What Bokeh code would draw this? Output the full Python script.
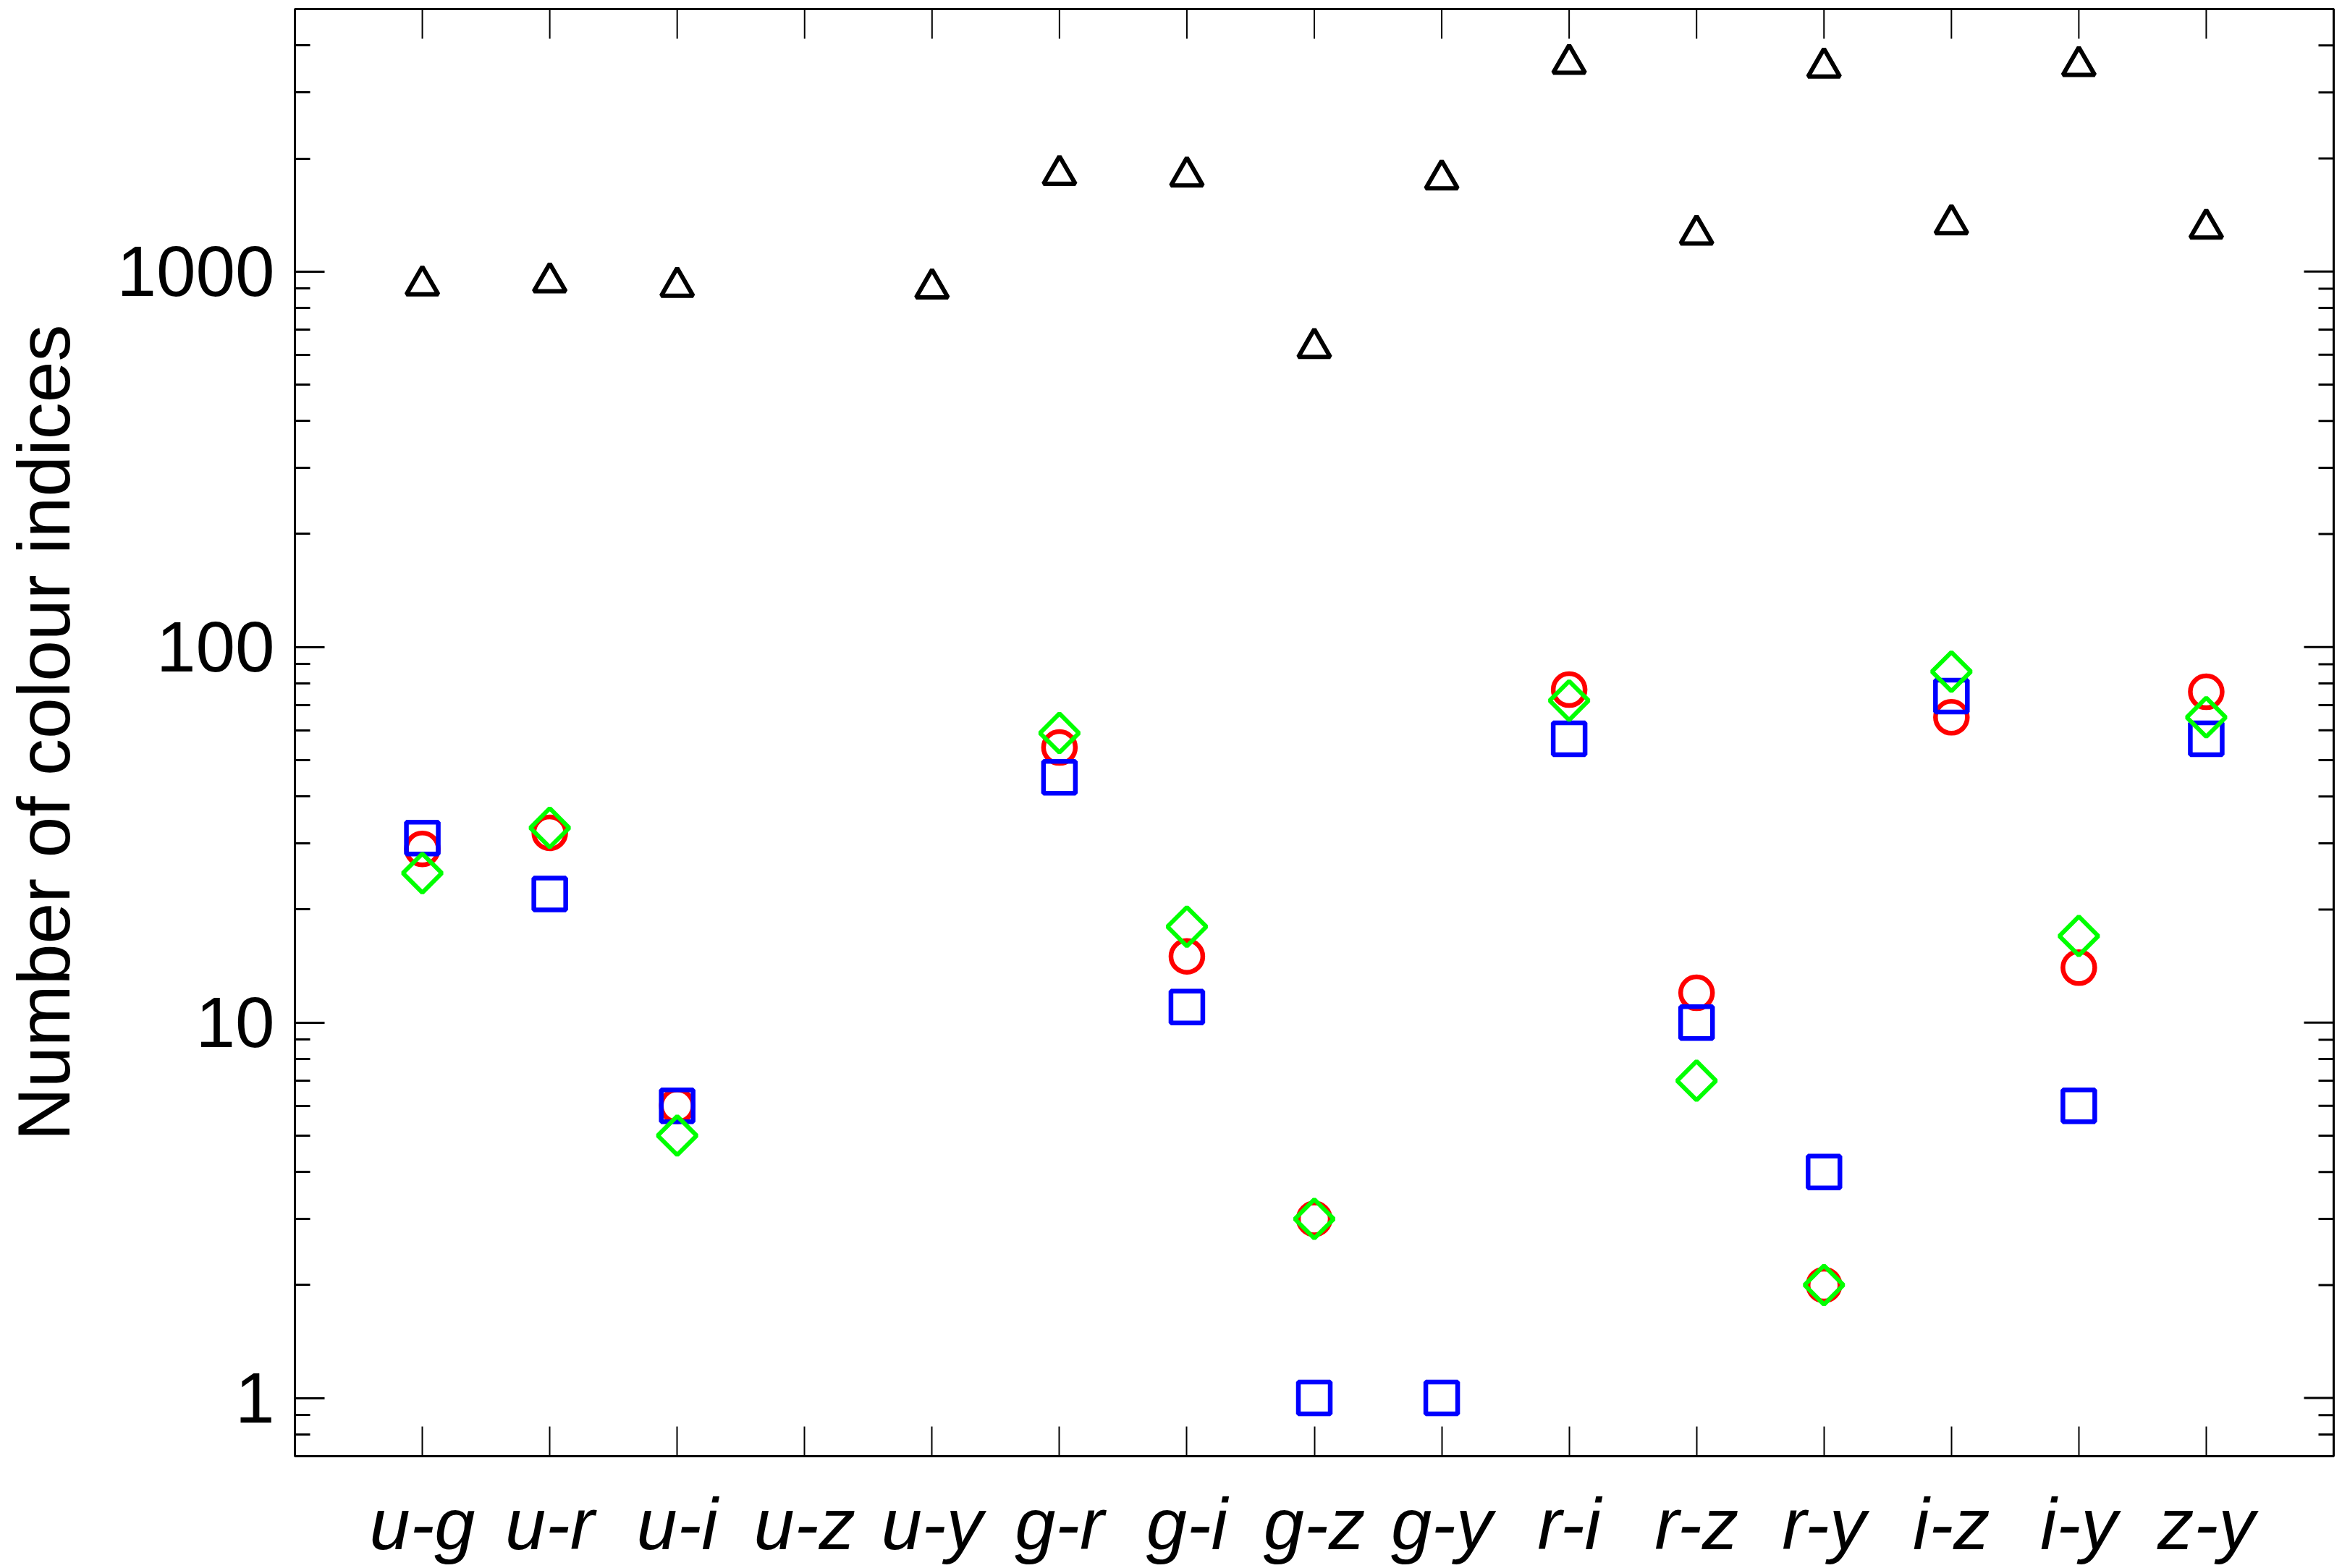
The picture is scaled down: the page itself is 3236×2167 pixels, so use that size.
import math
from bokeh.plotting import figure
from bokeh.models import Range1d, FixedTicker
from bokeh.embed import file_html
from bokeh.resources import INLINE

# ---- data ----
categories = ["u-g", "u-r", "u-i", "u-z", "u-y", "g-r", "g-i", "g-z", "g-y",
              "r-i", "r-z", "r-y", "i-z", "i-y", "z-y"]
NaN = float("nan")
triangles = [920, 937, 912, NaN, 903, 1811, 1794, 627, 1762, 3580, 1256, 3499, 1339, 3532, 1303]
circles   = [29, 32, 6, NaN, NaN, 54, 15, 3, NaN, 77, 12, 2, 65, 14, 76]
squares   = [31, 22, 6, NaN, NaN, 45, 11, 1, 1, 57, 10, 4, 74, 6, 57]
diamonds  = [25, 33, 5, NaN, NaN, 59, 18, 3, NaN, 72, 7, 2, 86, 17, 65]
y_ticks = [1, 10, 100, 1000]
y_tick_labels = ["1", "10", "100", "1000"]

x_pos = list(range(1, len(categories) + 1))
x_min, x_max = 0, len(categories) + 1
y_min, y_max = 0.7, 5000
y_minor = sorted(set([m * 10 ** e for e in range(-1, 4) for m in range(2, 10)
                      if y_min <= m * 10 ** e <= y_max] + [0.7, 0.8, 0.9]))


def pts(vals):
    xs = [x for x, v in zip(x_pos, vals) if not math.isnan(v)]
    ys = [v for v in vals if not math.isnan(v)]
    return xs, ys


FONT = "Liberation Sans"
MAJ, MIN = 41, 21

p = figure(width=3228, height=2165,
           x_range=Range1d(x_min, x_max), y_range=Range1d(y_min, y_max),
           y_axis_type="log", output_backend="svg", toolbar_location=None,
           min_border_left=407, min_border_right=4, min_border_top=12, min_border_bottom=153)
p.xgrid.visible = False
p.ygrid.visible = False
p.outline_line_color = "black"
p.outline_line_width = 3
p.background_fill_color = "white"
p.border_fill_color = "white"

xticker = FixedTicker(ticks=x_pos, minor_ticks=[])
yticker = FixedTicker(ticks=y_ticks, minor_ticks=y_minor)

# bottom axis
xa = p.xaxis[0]
xa.ticker = xticker
xa.major_label_overrides = {x: c for x, c in zip(x_pos, categories)}
xa.major_label_text_font = FONT
xa.major_label_text_font_style = "italic"
xa.major_label_text_font_size = "101px"
xa.major_label_standoff = 37
xa.major_tick_in = MAJ
xa.major_tick_out = 0
xa.minor_tick_in = 0
xa.minor_tick_out = 0
xa.major_tick_line_width = 2

# left axis
ya = p.yaxis[0]
ya.ticker = yticker
ya.major_label_overrides = {t: l for t, l in zip(y_ticks, y_tick_labels)}
ya.major_label_text_font = FONT
ya.major_label_text_font_size = "98px"
ya.major_label_standoff = 28
ya.axis_label = "Number of colour indices"
ya.axis_label_text_font = FONT
ya.axis_label_text_font_style = "normal"
ya.axis_label_text_font_size = "102px"
ya.axis_label_standoff = 40
ya.major_tick_in = MAJ
ya.major_tick_out = 0
ya.minor_tick_in = MIN
ya.minor_tick_out = 0
ya.major_tick_line_width = 3
ya.minor_tick_line_width = 3

for ax in [xa, ya]:
    ax.axis_line_width = 3
    ax.axis_line_color = "black"
    ax.major_tick_line_color = "black"
    ax.minor_tick_line_color = "black"
    ax.major_label_text_color = "black"
    ax.axis_label_text_color = "black"

# mirrored tick marks on the top and right edges (from the same tick lists)
p.ray(x=x_pos, y=[y_max] * len(x_pos), length=MAJ, angle=-math.pi / 2,
      length_units="screen", line_color="black", line_width=2)
p.ray(x=[x_max] * len(y_ticks), y=y_ticks, length=MAJ, angle=math.pi,
      length_units="screen", line_color="black", line_width=3)
p.ray(x=[x_max] * len(y_minor), y=y_minor, length=MIN, angle=math.pi,
      length_units="screen", line_color="black", line_width=3)

# ---- markers ----
LW = 6.5
xs, ys = pts(triangles)
p.scatter(xs, ys, marker="triangle", size=44, fill_color=None, line_color="black", line_width=6)
xs, ys = pts(circles)
p.scatter(xs, ys, marker="circle", size=44, fill_color=None, line_color="#ff0000", line_width=LW)
xs, ys = pts(squares)
p.scatter(xs, ys, marker="square", size=44, fill_color=None, line_color="#0000ff", line_width=LW)
xs, ys = pts(diamonds)
p.scatter(xs, ys, marker="square", angle=math.pi / 4, size=38, fill_color=None,
          line_color="#00ff00", line_width=6)

open("out.html", "w").write(file_html(p, INLINE))
